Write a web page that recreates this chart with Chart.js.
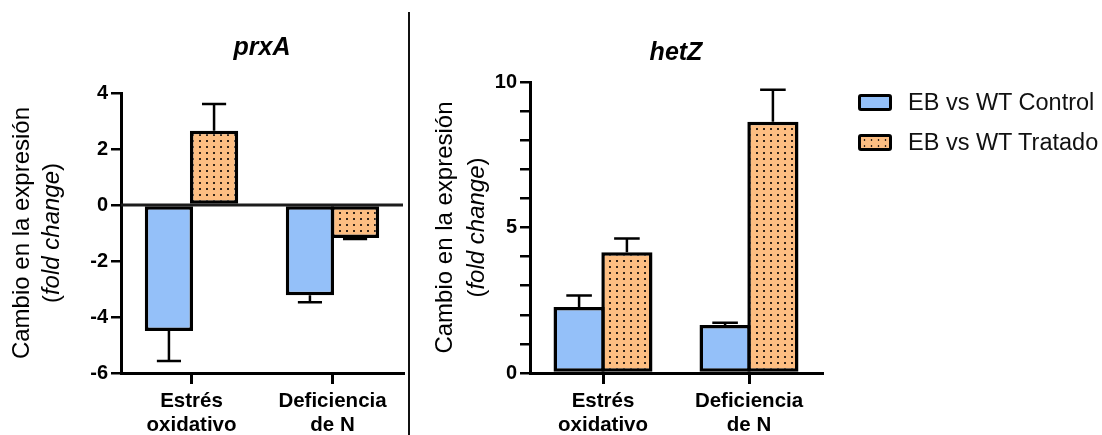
<!DOCTYPE html>
<html>
<head>
<meta charset="utf-8">
<script src="https://cdn.jsdelivr.net/npm/chart.js@4.4.0/dist/chart.umd.min.js"></script>
<style>
  body { margin: 0; background: #fff; width: 1102px; height: 435px; position: relative; overflow: hidden; font-family: "Liberation Sans", Arial, sans-serif; }
  #prxa { position: absolute; left: 0; top: 0; }
  #hetz { position: absolute; left: 410px; top: 0; }
  .divider { position: absolute; left: 408px; top: 12px; width: 1.5px; height: 423px; background: #111; }
  .legend { position: absolute; left: 858px; top: 82px; }
  .legend-item { display: flex; align-items: center; height: 40px; font-size: 23.5px; color: #111; white-space: nowrap; }
  .swatch { width: 28px; height: 11px; border: 3px solid #000; border-radius: 3px; margin-right: 16px; }
</style>
</head>
<body>
<canvas id="prxa" width="409" height="435"></canvas>
<div class="divider"></div>
<canvas id="hetz" width="692" height="435"></canvas>
<div class="legend" id="legend"></div>
<script>
const categories = [['Estrés', 'oxidativo'], ['Deficiencia', 'de N']];
const seriesNames = ['EB vs WT Control', 'EB vs WT Tratado'];

// prxA
const prxaControl = [-4.5, -3.22];
const prxaControlErr = [1.07, 0.25];
const prxaTreated = [2.65, -1.18];
const prxaTreatedErr = [0.96, 0.03];
const prxaTicks = [-6, -4, -2, 0, 2, 4];

// hetZ
const hetzControl = [2.27, 1.65];
const hetzControlErr = [0.39, 0.08];
const hetzTreated = [4.15, 8.63];
const hetzTreatedErr = [0.47, 1.1];
const hetzTicks = [0, 5, 10];

const BLUE = '#94c0f9';
const ORANGE = '#fdbe82';
const FONT = '"Liberation Sans", Arial, sans-serif';

function dots(color) {
    const p = document.createElement('canvas');
    p.width = 7;
    p.height = 6;
    const c = p.getContext('2d');
    c.fillStyle = color;
    c.fillRect(0, 0, 7, 6);
    c.fillStyle = '#35261a';
    c.fillRect(3, 2, 2, 2);
    return c.createPattern(p, 'repeat');
}

const errorBars = {
    id: 'errorBars',
    afterDatasetsDraw(chart, args, opts) {
        const { ctx, chartArea } = chart;
        const y = chart.scales.y;
        ctx.save();
        ctx.strokeStyle = '#000';
        if (opts.zeroLine) {
            const y0 = y.getPixelForValue(0);
            ctx.lineWidth = 3;
            ctx.strokeStyle = '#1c1c1c';
            ctx.beginPath();
            ctx.moveTo(chartArea.left, y0);
            ctx.lineTo(chartArea.right, y0);
            ctx.stroke();
            ctx.strokeStyle = '#000';
        }
        ctx.lineWidth = 2.5;
        chart.data.datasets.forEach((ds, i) => {
            chart.getDatasetMeta(i).data.forEach((bar, j) => {
                const v = ds.data[j];
                const end = v + Math.sign(v) * ds.errors[j];
                const yv = y.getPixelForValue(v);
                const ye = y.getPixelForValue(end);
                const half = bar.width / 4;
                ctx.beginPath();
                ctx.moveTo(bar.x, yv);
                ctx.lineTo(bar.x, ye);
                ctx.moveTo(bar.x - half, ye);
                ctx.lineTo(bar.x + half, ye);
                ctx.stroke();
            });
        });
        ctx.restore();
    }
};

// two line rotated y title, "fold change" in italics
const yTitle = {
    id: 'yTitle',
    afterDraw(chart, args, opts) {
        const { ctx, chartArea } = chart;
        const cy = (chartArea.top + chartArea.bottom) / 2;
        ctx.save();
        ctx.fillStyle = '#000';
        ctx.textBaseline = 'middle';
        ctx.translate(opts.x1, cy);
        ctx.rotate(-Math.PI / 2);
        ctx.font = '24px ' + FONT;
        ctx.textAlign = 'center';
        ctx.fillText('Cambio en la expresión', 0, 0);
        ctx.restore();

        ctx.save();
        ctx.fillStyle = '#000';
        ctx.textBaseline = 'middle';
        ctx.textAlign = 'left';
        ctx.translate(opts.x2, cy);
        ctx.rotate(-Math.PI / 2);
        const parts = [['(', ''], ['fold change', 'italic '], [')', '']];
        let total = 0;
        parts.forEach(([t, s]) => { ctx.font = s + '24px ' + FONT; total += ctx.measureText(t).width; });
        let x = -total / 2;
        parts.forEach(([t, s]) => {
            ctx.font = s + '24px ' + FONT;
            ctx.fillText(t, x, 0);
            x += ctx.measureText(t).width;
        });
        ctx.restore();
    }
};

function makeChart(id, cfg) {
    return new Chart(document.getElementById(id), {
        type: 'bar',
        data: {
            labels: categories,
            datasets: [
                {
                    label: seriesNames[0],
                    data: cfg.control,
                    errors: cfg.controlErr,
                    backgroundColor: BLUE,
                    borderColor: '#000',
                    borderWidth: 3.5,
                    borderSkipped: false,
                },
                {
                    label: seriesNames[1],
                    data: cfg.treated,
                    errors: cfg.treatedErr,
                    backgroundColor: dots(ORANGE),
                    borderColor: '#000',
                    borderWidth: 3.5,
                    borderSkipped: false,
                },
            ]
        },
        options: {
            responsive: false,
            animation: false,
            categoryPercentage: cfg.catPct,
            barPercentage: 1.07,
            layout: { padding: { left: 0, top: 0, bottom: 0, right: cfg.padRight } },
            plugins: {
                legend: { display: false },
                tooltip: { enabled: false },
                title: {
                    display: true,
                    text: cfg.title,
                    fullSize: false,
                    color: '#000',
                    font: { family: FONT, size: 25, weight: 'bold', style: 'italic', lineHeight: 1.2 },
                    padding: cfg.titlePad,
                },
                yTitle: { x1: cfg.x1, x2: cfg.x2 },
                errorBars: { zeroLine: cfg.zeroLine },
            },
            scales: {
                x: {
                    afterFit(scale) { scale.height = 62; },
                    grid: { offset: false, drawOnChartArea: false, drawTicks: true, tickLength: 11, color: '#000', lineWidth: 3 },
                    border: { display: true, color: '#000', width: 3 },
                    ticks: {
                        color: '#000',
                        padding: 5,
                        autoSkip: false,
                        maxRotation: 0,
                        font: { family: FONT, size: 20.5, weight: 'bold', lineHeight: 1.17 },
                    },
                },
                y: {
                    min: cfg.ticks[0],
                    max: cfg.ticks[cfg.ticks.length - 1],
                    afterFit(scale) { scale.width = cfg.yWidth; },
                    grid: { drawOnChartArea: false, drawTicks: true, tickLength: 10, color: '#000', lineWidth: 2.5 },
                    border: { display: true, color: '#000', width: 3 },
                    ticks: {
                        stepSize: cfg.step,
                        color: '#000',
                        padding: 3,
                        font: { family: FONT, size: 20, weight: 'bold' },
                        callback: v => cfg.ticks.includes(v) ? String(v) : '',
                    },
                },
            },
        },
        plugins: [errorBars, yTitle],
    });
}

makeChart('prxa', {
    title: 'prxA',
    control: prxaControl, controlErr: prxaControlErr,
    treated: prxaTreated, treatedErr: prxaTreatedErr,
    ticks: prxaTicks, step: 2,
    catPct: 0.64, padRight: 6, yWidth: 121,
    titlePad: { top: 33, bottom: 30 },
    x1: 22, x2: 52, zeroLine: true,
});

makeChart('hetz', {
    title: 'hetZ',
    control: hetzControl, controlErr: hetzControlErr,
    treated: hetzTreated, treatedErr: hetzTreatedErr,
    ticks: hetzTicks, step: 1,
    catPct: 0.655, padRight: 280, yWidth: 120,
    titlePad: { top: 38, bottom: 14 },
    x1: 35, x2: 67, zeroLine: false,
});

// legend
const legend = document.getElementById('legend');
seriesNames.forEach((name, i) => {
    const row = document.createElement('div');
    row.className = 'legend-item';
    const sw = document.createElement('span');
    sw.className = 'swatch';
    sw.style.background = i === 0 ? BLUE
        : ORANGE + ' radial-gradient(#35261a 0.9px, transparent 1.2px) 0 0 / 7px 6px';
    const label = document.createElement('span');
    label.textContent = name;
    row.append(sw, label);
    legend.append(row);
});
</script>
</body>
</html>
